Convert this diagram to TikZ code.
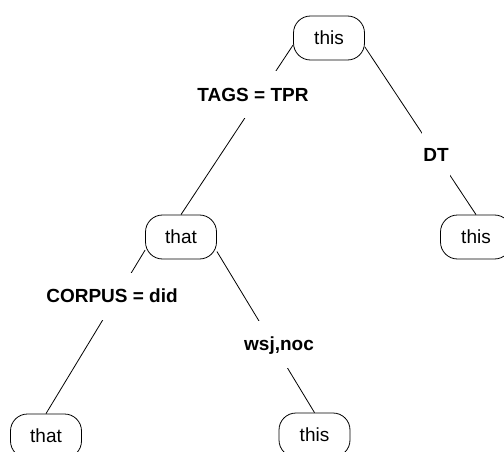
\documentclass[tikz,border=0pt]{standalone}
\usepackage{fontspec}
\setmainfont{Liberation Sans}
\usepackage{tikz}
\usetikzlibrary{positioning}

\begin{document}
\begin{tikzpicture}[x=1pt, y=1pt, line width=0.8pt, on grid,
    font=\fontsize{19}{22}\selectfont,
    tnode/.style={draw, rounded corners=17pt, minimum width=71pt,
      minimum height=44pt, inner sep=0pt},
    lbl/.style={font=\fontsize{19}{22}\selectfont\bfseries, fill=white,
      inner xsep=1pt, inner ysep=16.7pt, text height=13.6pt, text depth=0pt}]
  \useasboundingbox (0,0) rectangle (504,451);

  \node[tnode] (n1) at (329,413) {this};
  \node[tnode] (n2) [below left=199pt and 148pt of n1] {that};
  \node[tnode] (n3) [below right=199pt and 147pt of n1] {this};
  \node[tnode] (n4) [below left=199pt and 135pt of n2] {that};
  \node[tnode] (n5) [below right=198pt and 133.5pt of n2] {this};

  \path[draw] (n1.191) edge (n2.north)
              (n1.-14) edge (n3.north)
              (n2.200) edge (n4.north)
              (n2.-22) edge (n5.north);

  % edge labels sit on the lines
  \node[lbl] (tags)   [below left=57pt and 76pt of n1] {TAGS = TPR};
  \node[lbl] (dt)     [below right=117pt and 107pt of n1] {DT};
  \node[lbl] (corpus) [below left=59pt and 69pt of n2] {CORPUS = did};
  \node[lbl] (wsj)    [below right=107pt and 98pt of n2] {wsj,noc};
\end{tikzpicture}
\end{document}
